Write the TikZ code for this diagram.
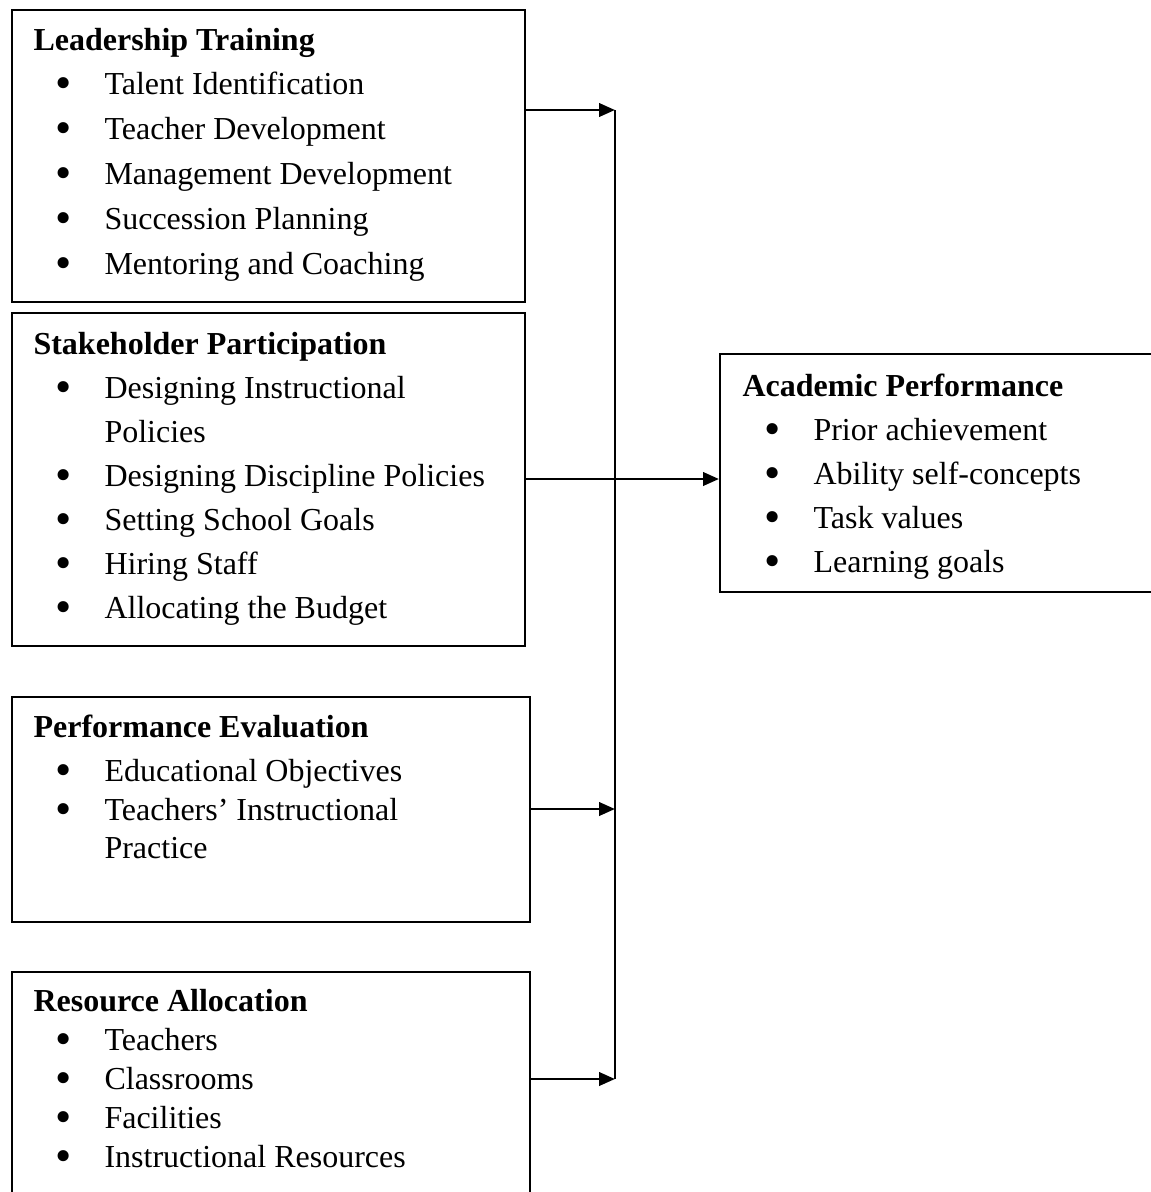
\documentclass[tikz,border=0pt]{standalone}
\usepackage{graphicx}
\usepackage{fontspec}
\setmainfont{Liberation Serif}
\usetikzlibrary{arrows.meta,fit}

\newcommand{\bigbullet}{\raisebox{-1.5pt}[0pt][0pt]{\scalebox{1.45}{\textbullet}}}

\tikzset{
  box/.style={draw, line width=0.75pt, inner sep=0pt},
  head/.style={anchor=base west, inner sep=0pt, font=\fontsize{12pt}{14pt}\selectfont\bfseries},
  item/.style={anchor=base west, inner sep=0pt,
    execute at begin node={\llap{\bigbullet\hspace{12.3pt}}}},
  cont/.style={anchor=base west, inner sep=0pt},
  link/.style={line width=1.1pt, -{Triangle[length=6pt,width=5pt]}}
}

\begin{document}
\begin{tikzpicture}[x=0.375pt,y=-0.375pt,font=\fontsize{12pt}{14pt}\selectfont]
  \useasboundingbox (0,0) rectangle (1151,1192);

  % the boxes
  \node[box,fit={(12,10) (525,302)}] (lt) {};
  \node[box,fit={(12,313) (525,646)}] (sp) {};
  \node[box,fit={(12,697) (530,922)}] (pe) {};
  \node[box,fit={(12,972) (530,1200)}] (ra) {};
  \node[box,fit={(720,354) (1160,592)}] (ap) {};

  % headings
  \node[head] (lt-h) at (33,50) {Leadership Training};
  \node[head] (sp-h) at (33,354) {Stakeholder Participation};
  \node[head] (pe-h) at (33,737) {Performance Evaluation};
  \node[head] (ra-h) at (33,1011) {Resource Allocation};
  \node[head] (ap-h) at (742,396) {Academic Performance};

  % bullet lists
  \foreach \y/\t [count=\i] in {94/Talent Identification, 139/Teacher Development,
      184/Management Development, 229/Succession Planning, 274/Mentoring and Coaching}
    \node[item] (lt-\i) at (104,\y) {\t};
  \foreach \y/\t [count=\i] in {398/Designing Instructional, 486/Designing Discipline Policies,
      530/Setting School Goals, 574/Hiring Staff, 618/Allocating the Budget}
    \node[item] (sp-\i) at (104,\y) {\t};
  \node[cont] (sp-1b) at (104,442) {Policies};
  \foreach \y/\t [count=\i] in {781/Educational Objectives, 820/Teachers’ Instructional}
    \node[item] (pe-\i) at (104,\y) {\t};
  \node[cont] (pe-2b) at (104,858) {Practice};
  \foreach \y/\t [count=\i] in {1050/Teachers, 1089/Classrooms, 1128/Facilities,
      1167/Instructional Resources}
    \node[item] (ra-\i) at (104,\y) {\t};
  \foreach \y/\t [count=\i] in {440/Prior achievement, 484/Ability self-concepts,
      528/Task values, 572/Learning goals}
    \node[item] (ap-\i) at (813,\y) {\t};

  % joints on the collecting line
  \coordinate (j1) at (615,110);
  \coordinate (j2) at (615,479);
  \coordinate (j3) at (615,809);
  \coordinate (j4) at (615,1079);

  \draw[line width=1.1pt] (j1) -- (j4);
  \draw[link] (lt.east |- j1) -- (j1);
  \draw[link] (sp.east |- j2) -- (ap.west |- j2);
  \draw[link] (pe.east |- j3) -- (j3);
  \draw[link] (ra.east |- j4) -- (j4);
\end{tikzpicture}
\end{document}
